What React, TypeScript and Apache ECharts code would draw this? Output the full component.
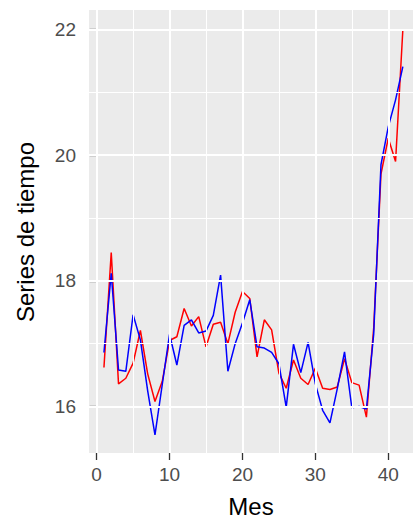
import React, { useEffect, useRef } from "react";
import * as echarts from "echarts";

const meses: number[] = Array.from({ length: 42 }, (_, i) => i + 1);
const serieRoja: number[] = [
  16.62, 18.45, 16.36, 16.45, 16.69, 17.21, 16.52, 16.08, 16.4, 17.05,
  17.11, 17.56, 17.28, 17.43, 16.95, 17.31, 17.34, 17.0, 17.5, 17.83,
  17.72, 16.79, 17.38, 17.22, 16.53, 16.29, 16.74, 16.45, 16.35, 16.61,
  16.29, 16.27, 16.31, 16.76, 16.38, 16.34, 15.83, 17.25, 19.7, 20.27,
  19.9, 22.0,
];
const serieAzul: number[] = [
  16.86, 18.12, 16.58, 16.56, 17.46, 17.06, 16.25, 15.55, 16.35, 17.15,
  16.66, 17.29, 17.38, 17.17, 17.2, 17.45, 18.09, 16.56, 17.0, 17.33,
  17.7, 16.95, 16.93, 16.86, 16.68, 15.99, 16.99, 16.54, 17.02, 16.36,
  15.94, 15.74, 16.28, 16.87, 15.98, 16.0, 15.96, 17.15, 19.85, 20.45,
  20.88, 21.41,
];
const xTicks: number[] = [0, 10, 20, 30, 40];
const xMinor: number[] = [5, 15, 25, 35];
const yTicks: number[] = [16, 18, 20, 22];
const yMinor: number[] = [17, 19, 21];

export default function App() {
  const ref = useRef<HTMLDivElement>(null);
  useEffect(() => {
    if (!ref.current) return;
    const chart = echarts.init(ref.current, null, { renderer: "svg" });
    const major = { color: "#FFFFFF", width: 2, type: "solid" as const };
    const minor = { color: "#FFFFFF", width: 1, type: "solid" as const };
    const gridLines = [
      ...xMinor.map((v) => ({ xAxis: v, lineStyle: minor })),
      ...yMinor.map((v) => ({ yAxis: v, lineStyle: minor })),
      ...xTicks.map((v) => ({ xAxis: v, lineStyle: major })),
      ...yTicks.map((v) => ({ yAxis: v, lineStyle: major })),
    ];
    const tickLabel = {
      color: "#4D4D4D",
      fontSize: 19,
      fontFamily: "Liberation Sans, Arial, sans-serif",
    };
    chart.setOption({
      animation: false,
      backgroundColor: "#FFFFFF",
      grid: {
        left: 89,
        top: 10,
        width: 328.8,
        height: 443,
        show: true,
        backgroundColor: "#EBEBEB",
        borderWidth: 0,
        containLabel: false,
      },
      xAxis: {
        type: "value",
        min: -1.05,
        max: 44.05,
        axisLine: { show: false },
        splitLine: { show: false },
        axisTick: {
          show: true,
          length: 7,
          lineStyle: { color: "#333333", width: 1.3 },
          customValues: xTicks,
        },
        axisLabel: { ...tickLabel, margin: 12, customValues: xTicks },
      },
      yAxis: {
        type: "value",
        min: 15.26,
        max: 22.31,
        axisLine: { show: false },
        splitLine: { show: false },
        axisTick: {
          show: true,
          length: 7,
          lineStyle: { color: "#333333", width: 1.3 },
          customValues: yTicks,
        },
        axisLabel: { ...tickLabel, margin: 13, customValues: yTicks },
      },
      graphic: [
        {
          type: "text",
          x: 251,
          y: 506,
          style: {
            text: "Mes",
            fill: "#000000",
            fontSize: 24,
            fontFamily: "Liberation Sans, Arial, sans-serif",
            textAlign: "center",
            textVerticalAlign: "middle",
          },
        },
        {
          type: "text",
          x: 25,
          y: 232,
          rotation: Math.PI / 2,
          style: {
            text: "Series de tiempo",
            fill: "#000000",
            fontSize: 24,
            fontFamily: "Liberation Sans, Arial, sans-serif",
            textAlign: "center",
            textVerticalAlign: "middle",
          },
        },
      ],
      series: [
        {
          type: "line",
          data: [],
          z: 1,
          silent: true,
          markLine: {
            silent: true,
            symbol: ["none", "none"],
            label: { show: false },
            data: gridLines,
          },
        },
        {
          type: "line",
          z: 3,
          data: meses.map((m, i) => [m, serieRoja[i]]),
          showSymbol: false,
          lineStyle: { color: "#FF0000", width: 1.5 },
          itemStyle: { color: "#FF0000" },
        },
        {
          type: "line",
          z: 4,
          data: meses.map((m, i) => [m, serieAzul[i]]),
          showSymbol: false,
          lineStyle: { color: "#0000FF", width: 1.5 },
          itemStyle: { color: "#0000FF" },
        },
      ],
    });
    return () => chart.dispose();
  }, []);
  return (
    <div
      style={{
        position: "fixed",
        left: 0,
        top: 0,
        width: 413,
        height: 520,
        overflow: "hidden",
        background: "#FFFFFF",
      }}
    >
      <div ref={ref} style={{ width: 430, height: 520 }} />
    </div>
  );
}
